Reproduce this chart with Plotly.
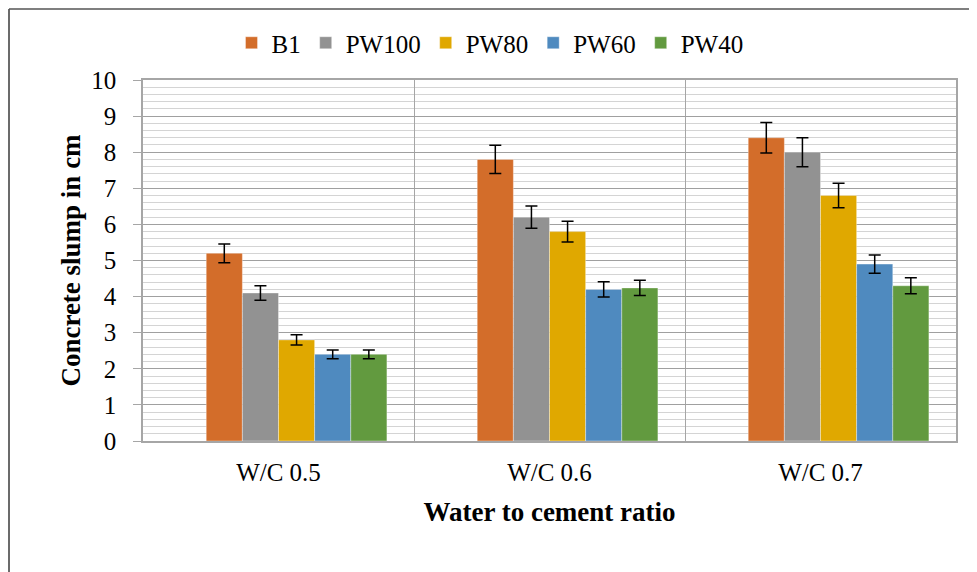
import plotly.graph_objects as go

categories = ["W/C 0.5", "W/C 0.6", "W/C 0.7"]
series_names = ["B1", "PW100", "PW80", "PW60", "PW40"]
b1 = [5.2, 7.8, 8.4]
pw100 = [4.1, 6.2, 8.0]
pw80 = [2.8, 5.8, 6.8]
pw60 = [2.4, 4.2, 4.9]
pw40 = [2.4, 4.24, 4.3]
err_b1 = [0.26, 0.39, 0.42]
err_pw100 = [0.2, 0.31, 0.4]
err_pw80 = [0.14, 0.29, 0.34]
err_pw60 = [0.12, 0.21, 0.25]
err_pw40 = [0.12, 0.21, 0.22]
colors = ["#D36D2A", "#929292", "#E0A800", "#4F8ABF", "#629A3F"]

values = [b1, pw100, pw80, pw60, pw40]
errors = [err_b1, err_pw100, err_pw80, err_pw60, err_pw40]

# page body has an 8px margin; figure is sized so it ends at the window edge
OFF = 8
W, H = 977 - OFF, 572 - OFF
L, R, T, B = 143 - OFF, 21, 80 - OFF, 131
pw = W - L - R
ph = H - T - B

fig = go.Figure()
# empty leading series (as in the original spreadsheet layout)
fig.add_trace(go.Bar(x=categories, y=[None, None, None], showlegend=False,
                     hoverinfo="skip", marker_color="rgba(0,0,0,0)"))
for name, vals, errs, col in zip(series_names, values, errors, colors):
    fig.add_trace(go.Bar(
        x=categories, y=vals, name=name,
        marker=dict(color=col, line=dict(width=0.6, color="rgba(255,255,255,0.6)")),
        error_y=dict(type="data", array=errs, visible=True, color="black",
                     thickness=1.5, width=6),
    ))

ff = "Liberation Serif"

# screen pixel -> paper coordinates
def px_x(p):
    return (p - OFF - L) / pw

def px_y(p):
    return (T + ph - (p - OFF)) / ph

fig.update_layout(
    width=W, height=H,
    margin=dict(l=L, r=R, t=T, b=B, pad=0, autoexpand=False),
    paper_bgcolor="white", plot_bgcolor="white",
    barmode="group", bargap=0.2, bargroupgap=0,
    font=dict(family=ff, size=25, color="black"),
    showlegend=True,
    legend=dict(orientation="h", x=px_x(490), xanchor="center", y=px_y(43),
                yanchor="middle", font=dict(size=25, family=ff),
                itemwidth=30, bgcolor="rgba(0,0,0,0)"),
    xaxis=dict(
        type="category", tickson="boundaries", showgrid=True,
        gridcolor="#A6A6A6", gridwidth=1.2, ticks="",
        showline=True, linecolor="#A6A6A6", linewidth=1.5, mirror=True,
        tickfont=dict(size=25, family=ff, color="black"), ticklabelstandoff=8,
        title=dict(text="<b>Water to cement ratio</b>", font=dict(size=27, family=ff),
                   standoff=17),
    ),
    yaxis=dict(
        range=[0, 10], dtick=1, showgrid=True, gridcolor="#A0A0A0", gridwidth=1.2,
        ticks="outside", ticklen=8, tickcolor="#A6A6A6", tickwidth=1.2,
        showline=True, linecolor="#A6A6A6", linewidth=1.5, mirror=True,
        zeroline=False,
        minor=dict(dtick=0.2, showgrid=True, gridcolor="#D4D4D4", gridwidth=1.2),
        tickfont=dict(size=25, family=ff, color="black"), ticklabelstandoff=12,
        title=dict(text="<b>Concrete slump in cm</b>", font=dict(size=27, family=ff),
                   standoff=3),
    ),
)

# outer chart border (left and top edges visible in the frame)
fig.add_shape(type="line", xref="paper", yref="paper",
              x0=px_x(9), x1=px_x(9), y0=px_y(9), y1=px_y(590),
              line=dict(color="#3A3A3A", width=1.5))
fig.add_shape(type="line", xref="paper", yref="paper",
              x0=px_x(9), x1=px_x(990), y0=px_y(9), y1=px_y(9),
              line=dict(color="#555555", width=1.5))

fig.write_html("out.html")
